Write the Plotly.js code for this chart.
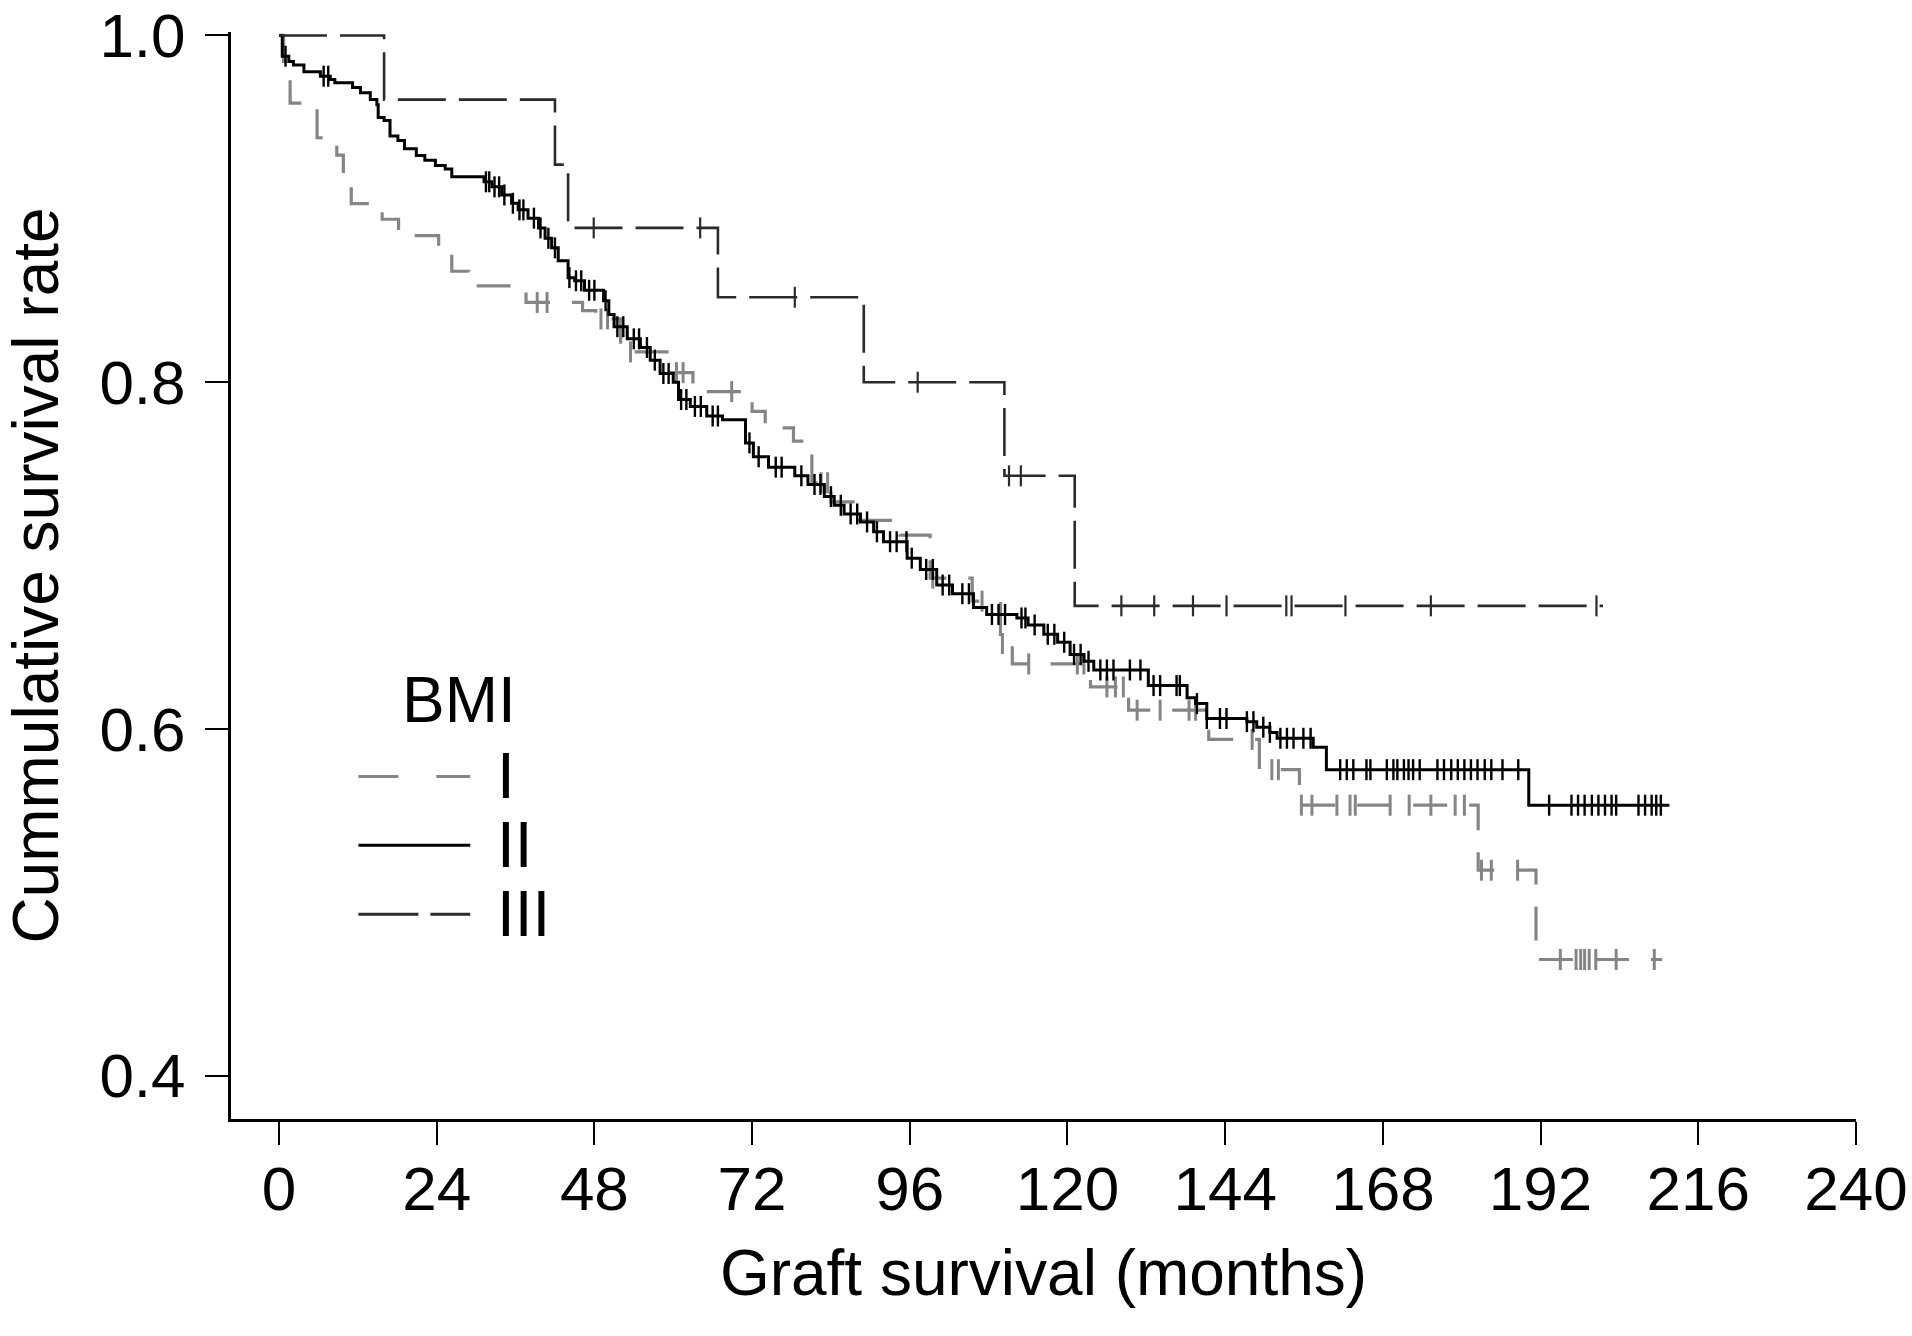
<!DOCTYPE html>
<html>
<head>
<meta charset="utf-8">
<script src="https://cdn.plot.ly/plotly-3.0.1.min.js"></script>
<style>
  html, body { margin: 0; padding: 0; background: #ffffff; }
  #chart { width: 1912px; height: 1336px; }
</style>
</head>
<body>
<div id="chart"></div>
<script>
// ---------------- DATA ----------------
// Kaplan-Meier step curves: survival value holds from time[i] until time[i+1]
const groupNames = ["I", "II", "III"];

// BMI group I (grey dashed)
const timeI = [0, 0.7, 1.7, 5.8, 8.8, 9.8, 11.0, 15.7, 18.2, 24.3, 26.3, 28.9, 37.6, 46.2, 48.2,
  52.0, 59.5, 63.0, 72.0, 74.0, 78.3, 81.1, 84.0, 88.0, 94.5, 99.1, 105.5, 109.8, 111.6, 123.5,
  129.3, 141.5, 149.2, 155.3, 182.5, 191.3, 210.5];
const survI = [1.0, 0.985, 0.961, 0.941, 0.931, 0.913, 0.903, 0.894, 0.8845, 0.8742, 0.864, 0.8556,
  0.846, 0.8413, 0.8365, 0.8175, 0.8055, 0.7946, 0.7832, 0.7737, 0.766, 0.742, 0.731, 0.7203,
  0.7118, 0.687, 0.6737, 0.6493, 0.6375, 0.6242, 0.6108, 0.594, 0.5765, 0.556, 0.5185, 0.467, 0.467];
const censorI = [39.3, 40.8, 49.0, 50.0, 53.5, 60.5, 61.5, 68.9, 82.5, 83.5, 99.5, 107.0, 110.1,
  114.1, 121.5, 122.5, 126.0, 127.3, 128.5, 130.6, 134.1, 138.5, 139.5, 148.1, 151.1, 152.1,
  155.6, 157.2, 161.0, 163.0, 163.8, 169.1, 172.0, 175.3, 179.0, 180.4, 183.0, 184.5, 188.5,
  195.0, 197.4, 198.1, 198.7, 199.4, 200.4, 203.5, 209.3];

// BMI group II (black solid)
const timeII = [0, 0.5, 1.5, 2.2, 3.8, 6.3, 7.8, 8.5, 11.2, 12.4, 13.9, 14.9, 15.1, 16.0, 16.9,
  18.1, 19.1, 20.9, 22.2, 23.8, 25.3, 26.3, 31.2, 32.4, 33.9, 35.4, 36.4, 37.9, 39.5, 40.5, 41.5,
  42.5, 44.0, 45.0, 46.5, 49.4, 50.2, 51.0, 53.0, 55.0, 56.5, 58.0, 60.0, 60.8, 62.6, 65.1, 67.5,
  71.0, 72.2, 74.5, 78.5, 80.5, 83.0, 84.5, 86.0, 88.5, 90.5, 92.0, 95.6, 97.6, 100.1, 102.5,
  105.7, 107.7, 112.3, 114.0, 116.4, 118.5, 120.4, 122.5, 124.0, 132.3, 138.2, 139.5, 141.2,
  147.3, 148.8, 150.8, 151.9, 157.4, 159.4, 190.2, 211.6];
const survII = [1.0, 0.988, 0.985, 0.983, 0.979, 0.9765, 0.9746, 0.9727, 0.970, 0.967, 0.963,
  0.960, 0.9527, 0.951, 0.942, 0.9394, 0.9346, 0.9308, 0.928, 0.925, 0.923, 0.9185, 0.9156,
  0.9127, 0.908, 0.9032, 0.8994, 0.8946, 0.889, 0.883, 0.8775, 0.870, 0.8603, 0.8585, 0.853,
  0.847, 0.839, 0.832, 0.825, 0.820, 0.8127, 0.805, 0.800, 0.790, 0.786, 0.7805, 0.7784, 0.765,
  0.757, 0.751, 0.746, 0.741, 0.734, 0.729, 0.724, 0.7194, 0.7137, 0.708, 0.6985, 0.692, 0.683,
  0.678, 0.670, 0.666, 0.664, 0.660, 0.6546, 0.650, 0.643, 0.639, 0.634, 0.625, 0.618, 0.6146,
  0.606, 0.6042, 0.601, 0.598, 0.5946, 0.5895, 0.5765, 0.556, 0.556];
const censorII = [1.0, 6.8, 7.5, 31.5, 32.0, 32.8, 33.5, 34.3, 35.6, 36.6, 37.2, 38.8, 39.8, 41.0,
  42.0, 44.2, 45.2, 46.0, 47.2, 48.0, 49.7, 51.5, 52.4, 54.0, 54.8, 56.0, 57.2, 58.5, 59.3, 61.2,
  62.0, 63.3, 64.2, 66.0, 66.8, 71.6, 73.0, 75.6, 76.5, 79.5, 81.5, 82.4, 84.0, 85.5, 87.0, 88.0,
  89.5, 91.0, 93.0, 94.0, 95.5, 96.3, 98.5, 99.5, 101.0, 102.0, 104.0, 105.0, 108.5, 109.5, 110.5,
  113.0, 113.6, 115.0, 117.0, 118.0, 119.5, 121.0, 122.0, 123.2, 125.0, 126.0, 127.0, 129.5,
  131.1, 133.1, 134.1, 136.6, 137.1, 139.7, 141.2, 143.2, 144.2, 147.3, 148.3, 149.8, 150.8,
  152.4, 153.4, 154.4, 155.9, 157.0, 161.5, 162.5, 163.5, 165.5, 166.1, 168.6, 169.6, 170.2,
  171.2, 171.9, 172.6, 173.6, 176.3, 177.3, 178.4, 179.4, 180.4, 181.4, 182.4, 183.5, 184.5,
  186.2, 188.6, 193.3, 196.7, 197.7, 198.7, 199.8, 200.8, 201.8, 202.8, 203.5, 206.9, 207.9,
  208.9, 209.6, 210.3];

// BMI group III (dark long dashes)
const timeIII = [0, 16.0, 42.0, 44.0, 66.8, 89.0, 110.4, 121.1, 201.5];
const survIII = [1.0, 0.963, 0.9255, 0.889, 0.849, 0.800, 0.746, 0.671, 0.671];
const censorIII = [47.9, 64.1, 78.5, 97.2, 111.1, 112.9, 128.2, 133.2, 139.1, 144.2, 153.3,
  154.1, 162.3, 175.3, 200.5];

// Axis ticks
const xTickVals = [0, 24, 48, 72, 96, 120, 144, 168, 192, 216, 240];
const xTickText = ["0", "24", "48", "72", "96", "120", "144", "168", "192", "216", "240"];
const yTickVals = [0.4, 0.6, 0.8, 1.0];
const yTickText = ["0.4", "0.6", "0.8", "1.0"];

// ---------------- helpers ----------------
function stepAt(times, surv, t) {
  let v = surv[0];
  for (let i = 0; i < times.length; i++) {
    if (times[i] <= t) v = surv[i]; else break;
  }
  return v;
}

const colI = "#858585", colII = "#000000", colIII = "#2b2b2b";

function curve(times, surv, color, width, dash) {
  return { type: "scatter", mode: "lines", x: times, y: surv,
    line: { shape: "hv", color: color, width: width, dash: dash },
    hoverinfo: "skip", showlegend: false };
}
function censors(times, surv, ct, color, lw) {
  return { type: "scatter", mode: "markers", x: ct, y: ct.map(t => stepAt(times, surv, t)),
    marker: { symbol: "line-ns-open", size: 15, color: color, line: { color: color, width: lw } },
    hoverinfo: "skip", showlegend: false, cliponaxis: false };
}

const data = [
  curve(timeI, survI, colI, 3.2, "34px,22px"),
  censors(timeI, survI, censorI, colI, 3),
  curve(timeII, survII, colII, 3, "solid"),
  censors(timeII, survII, censorII, colII, 2.4),
  curve(timeIII, survIII, colIII, 2.6, "48px,13px"),
  censors(timeIII, survIII, censorIII, colIII, 2.2)
];

// ---------------- legend (drawn by hand, as in the reference) ----------------
const legX0 = 0.0784, legX1 = 0.1472, legTextX = 0.1625;
const legRowsY = [0.3152, 0.2518, 0.1883];
const legStyles = [
  { color: colI, dash: "40px,38px" },
  { color: colII, dash: "solid" },
  { color: colIII, dash: "60px,12px" }
];
const shapes = legRowsY.map((yy, i) => ({
  type: "line", xref: "paper", yref: "paper", x0: legX0, x1: legX1, y0: yy, y1: yy,
  line: { color: legStyles[i].color, width: 3, dash: legStyles[i].dash }
}));
const font = "Liberation Sans, Arial, Helvetica, sans-serif";
const annotations = [
  { text: "BMI", xref: "paper", yref: "paper", x: 0.1040, y: 0.3857, xanchor: "left",
    yanchor: "middle", showarrow: false, font: { family: font, size: 64, color: "#000" } }
].concat(groupNames.map((g, i) => ({
  text: g, xref: "paper", yref: "paper", x: legTextX, y: legRowsY[i], xanchor: "left",
  yanchor: "middle", showarrow: false, font: { family: font, size: 64, color: "#000" }
})));

const layout = {
  width: 1912, height: 1336,
  paper_bgcolor: "#ffffff", plot_bgcolor: "#ffffff",
  margin: { l: 231, r: 56, t: 32, b: 217, pad: 0 },
  showlegend: false,
  font: { family: font, color: "#000" },
  xaxis: {
    range: [-7.3, 240], autorange: false,
    tickmode: "array", tickvals: xTickVals, ticktext: xTickText,
    ticks: "outside", ticklen: 23, tickwidth: 2, tickcolor: "#000",
    showline: true, linecolor: "#000", linewidth: 3,
    showgrid: false, zeroline: false,
    tickfont: { family: font, size: 62, color: "#000" },
    ticklabelstandoff: -9,
    ticklabeloverflow: "allow",
    title: { text: "Graft survival (months)", font: { family: font, size: 64, color: "#000" }, standoff: 28 }
  },
  yaxis: {
    range: [0.375, 1.002], autorange: false,
    tickmode: "array", tickvals: yTickVals, ticktext: yTickText,
    ticks: "outside", ticklen: 23, tickwidth: 2, tickcolor: "#000",
    showline: true, linecolor: "#000", linewidth: 3,
    showgrid: false, zeroline: false,
    tickfont: { family: font, size: 62, color: "#000" },
    ticklabelstandoff: 7,
    ticklabeloverflow: "allow",
    title: { text: "Cummulative survival rate", font: { family: font, size: 64, color: "#000" }, standoff: 22 }
  },
  shapes: shapes,
  annotations: annotations
};

Plotly.newPlot("chart", data, layout, { staticPlot: true, displayModeBar: false });
</script>
</body>
</html>
